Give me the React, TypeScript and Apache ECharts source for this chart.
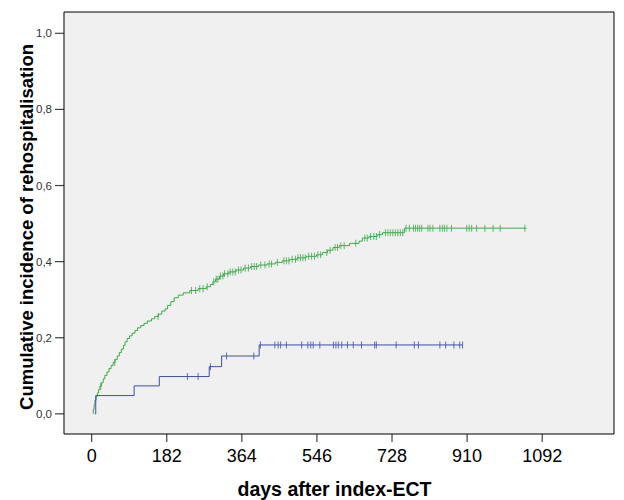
import React, { useEffect, useRef } from "react";
import * as echarts from "echarts";

// Tick labels
const xTicks = [0, 182, 364, 546, 728, 910, 1092];
const yTicks = [0, 0.2, 0.4, 0.6, 0.8, 1.0];

// No lithium treatment: event days and cumulative incidence after each event
const greenStart = 4;
const greenEnd = 1054;
const greenEventDays = [
  4, 6, 8, 11, 14, 17, 20, 24, 28, 32, 37, 42, 47, 52, 57, 62, 67, 72, 77, 81,
  86, 92, 98, 105, 111, 119, 127, 135, 145, 153, 162, 170, 178, 184, 192, 200,
  210, 222, 238, 258, 278, 288, 294, 300, 310, 320, 333, 350, 368, 385, 405,
  425, 445, 462, 480, 498, 520, 545, 560, 572, 585, 600, 625, 648, 656, 672,
  692, 705, 758,
];
const greenEventVals = [
  0.012, 0.024, 0.036, 0.046, 0.055, 0.064, 0.073, 0.082, 0.092, 0.101, 0.11,
  0.119, 0.127, 0.135, 0.143, 0.152, 0.161, 0.17, 0.18, 0.189, 0.198, 0.205,
  0.212, 0.219, 0.226, 0.232, 0.238, 0.244, 0.25, 0.256, 0.262, 0.27, 0.276,
  0.285, 0.295, 0.305, 0.312, 0.318, 0.324, 0.329, 0.334, 0.34, 0.347, 0.354,
  0.362, 0.368, 0.373, 0.378, 0.383, 0.387, 0.391, 0.394, 0.398, 0.402, 0.406,
  0.41, 0.414, 0.418, 0.424, 0.43, 0.437, 0.442, 0.448, 0.454, 0.462, 0.466,
  0.471, 0.476, 0.488,
];
const greenCensorDays = [
  22, 56, 161, 242, 252, 262, 270, 280, 296, 302, 306, 312, 318, 322, 330, 336,
  342, 348, 356, 362, 372, 380, 388, 394, 400, 410, 420, 430, 436, 450, 466,
  472, 478, 486, 494, 500, 506, 512, 518, 526, 533, 540, 548, 555, 570, 578,
  590, 596, 604, 612, 640, 662, 668, 676, 684, 690, 698, 712, 718, 724, 730,
  736, 742, 748, 754, 762, 770, 780, 785, 790, 795, 800, 815, 820, 827, 844,
  850, 855, 861, 872, 909, 915, 921, 933, 953, 973, 990, 1050,
];

// Lithium treatment
const blueStart = 8;
const blueEnd = 899;
const blueEventDays = [10, 103, 164, 285, 315, 406];
const blueEventVals = [0.048, 0.0735, 0.098, 0.124, 0.152, 0.181];
const blueCensorDays = [
  232, 258, 288, 327, 393, 409, 444, 452, 458, 472, 509, 524, 531, 537, 553,
  586, 592, 598, 606, 620, 634, 654, 686, 690, 738, 782, 792, 844, 858, 878,
  892, 899,
];

// Plot box extent (data units) and the slightly larger axis range that
// leaves room for the outward tick marks inside the grid
const BOX_X_MIN = -67;
const BOX_X_MAX = 1266;
const BOX_Y_MIN = -0.053;
const BOX_Y_MAX = 1.056;
const AXIS_X_MIN = -88.8;
const AXIS_Y_MIN = -0.074;

const GREEN = "#3aab48";
const BLUE = "#3d4eab";
const FONT = "'Liberation Sans', Arial, sans-serif";

function stepLine(start: number, end: number, days: number[], vals: number[]) {
  const pts: number[][] = [[start, 0]];
  days.forEach((d, i) => pts.push([d, vals[i]]));
  pts.push([end, vals[vals.length - 1]]);
  return pts;
}

function valueAt(day: number, days: number[], vals: number[]) {
  let v = 0;
  for (let i = 0; i < days.length; i++) {
    if (days[i] <= day) v = vals[i];
  }
  return v;
}

export default function App() {
  const ref = useRef<HTMLDivElement>(null);
  useEffect(() => {
    if (!ref.current) return;
    const chart = echarts.init(ref.current, null, { renderer: "svg" });
    const fmt = (v: number) => v.toFixed(1).replace(".", ",");
    chart.setOption({
      animation: false,
      backgroundColor: "#ffffff",
      textStyle: { fontFamily: FONT },
      grid: {
        left: 55,
        right: 10,
        top: 12,
        bottom: 58,
        outerBoundsMode: "none",
        containLabel: false,
        show: false,
      },
      xAxis: {
        type: "value",
        min: AXIS_X_MIN,
        max: BOX_X_MAX,
        splitLine: { show: false },
        axisLine: { show: false, onZero: false },
        axisTick: { show: false },
        axisLabel: {
          customValues: xTicks,
          formatter: (v: number) => String(v),
          fontSize: 18,
          color: "#000",
          margin: 5,
          fontFamily: FONT,
        },
        name: "days after index-ECT",
        nameLocation: "middle",
        nameGap: 37,
        nameMoveOverlap: false,
        nameTextStyle: {
          fontSize: 19.5,
          fontWeight: "bold",
          color: "#000",
          fontFamily: FONT,
        },
      },
      yAxis: {
        type: "value",
        min: AXIS_Y_MIN,
        max: BOX_Y_MAX,
        splitLine: { show: false },
        axisLine: { show: false, onZero: false },
        axisTick: { show: false },
        axisLabel: {
          customValues: yTicks,
          formatter: fmt,
          fontSize: 11.5,
          color: "#333",
          margin: 3,
          fontFamily: FONT,
        },
        name: "Cumulative incidence of rehospitalisation",
        nameLocation: "middle",
        nameGap: 19,
        nameMoveOverlap: false,
        nameTextStyle: {
          fontSize: 18.5,
          fontWeight: "bold",
          color: "#000",
          fontFamily: FONT,
        },
      },
      series: [
        {
          // plot box
          type: "line",
          clip: false,
          silent: true,
          showSymbol: false,
          lineStyle: { opacity: 0 },
          data: [[BOX_X_MIN, BOX_Y_MIN]],
          z: 1,
          markArea: {
            silent: true,
            itemStyle: {
              color: "#f0f0f0",
              borderColor: "#000",
              borderWidth: 1,
            },
            data: [
              [
                { coord: [BOX_X_MIN, BOX_Y_MIN] },
                { coord: [BOX_X_MAX, BOX_Y_MAX] },
              ],
            ],
          },
        },
        {
          name: "No lithium treatment",
          type: "line",
          step: "end",
          clip: false,
          showSymbol: false,
          lineStyle: { color: GREEN, width: 1 },
          data: stepLine(greenStart, greenEnd, greenEventDays, greenEventVals),
          z: 3,
        },
        {
          name: "lithium treatment",
          type: "line",
          step: "end",
          clip: false,
          showSymbol: false,
          lineStyle: { color: BLUE, width: 1 },
          data: stepLine(blueStart, blueEnd, blueEventDays, blueEventVals),
          z: 3,
        },
        {
          type: "scatter",
          clip: false,
          symbol: "rect",
          symbolSize: [1, 7],
          itemStyle: { color: GREEN },
          data: greenCensorDays.map((d) => [
            d,
            valueAt(d, greenEventDays, greenEventVals),
          ]),
          z: 4,
        },
        {
          type: "scatter",
          clip: false,
          symbol: "rect",
          symbolSize: [1, 7],
          itemStyle: { color: BLUE },
          data: blueCensorDays.map((d) => [
            d,
            valueAt(d, blueEventDays, blueEventVals),
          ]),
          z: 4,
        },
        {
          // x-axis tick marks, hanging below the box
          type: "scatter",
          clip: false,
          silent: true,
          symbol: "rect",
          symbolSize: [1.2, 8],
          symbolOffset: [0, 4],
          itemStyle: { color: "#111" },
          data: xTicks.map((v) => [v, BOX_Y_MIN]),
          z: 5,
        },
        {
          // y-axis tick marks, left of the box
          type: "scatter",
          clip: false,
          silent: true,
          symbol: "rect",
          symbolSize: [9, 1.2],
          symbolOffset: [-4.5, 0],
          itemStyle: { color: "#111" },
          data: yTicks.map((v) => [BOX_X_MIN, v]),
          z: 5,
        },
      ],
      graphic: [
        {
          type: "text",
          x: 417,
          y: 215,
          style: {
            text: "No lithium treatment",
            fontSize: 18,
            fontFamily: FONT,
            fill: "#000",
            align: "center",
            verticalAlign: "middle",
          },
        },
        {
          type: "text",
          x: 389,
          y: 331,
          style: {
            text: "lithium treatment",
            fontSize: 18,
            fontFamily: FONT,
            fill: "#000",
            align: "center",
            verticalAlign: "middle",
          },
        },
      ],
    });
    return () => chart.dispose();
  }, []);
  return (
    <div
      ref={ref}
      style={{
        position: "fixed",
        left: 0,
        top: 0,
        width: 624,
        height: 500,
        background: "#fff",
      }}
    />
  );
}
